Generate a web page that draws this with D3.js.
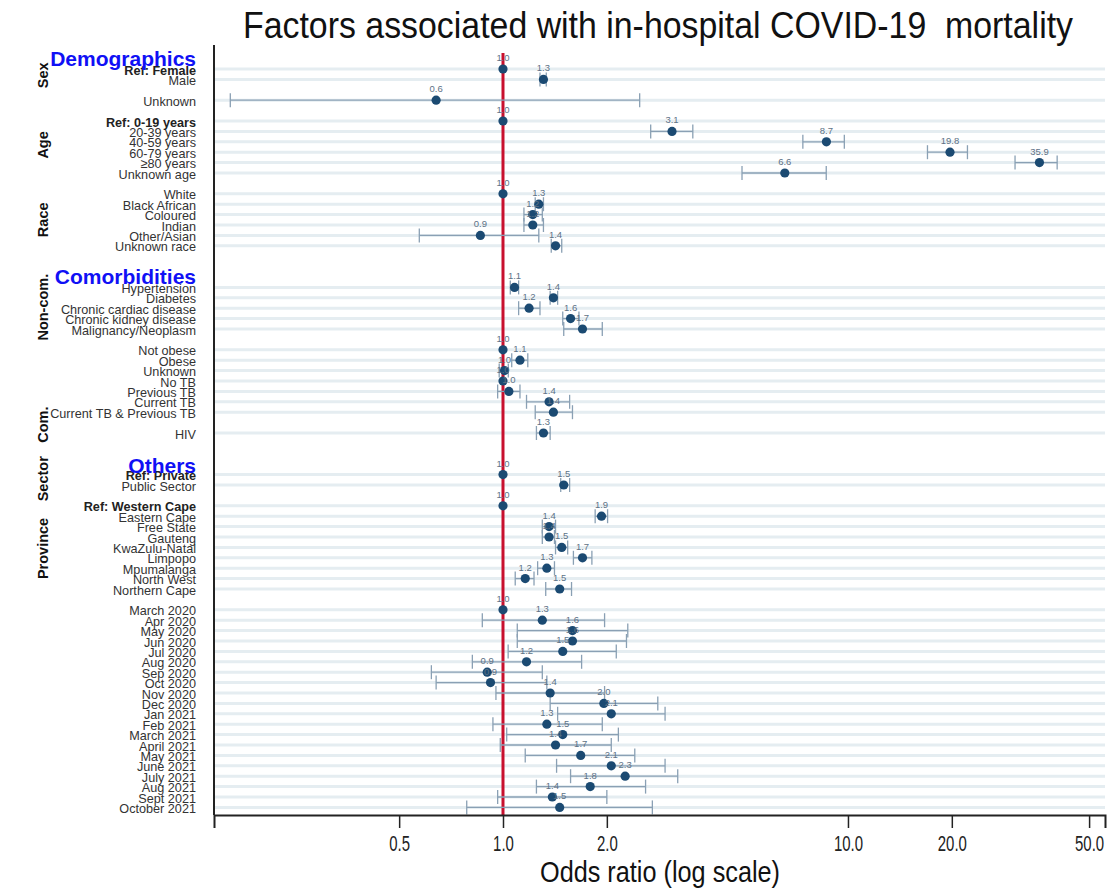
<!DOCTYPE html>
<html>
<head>
<meta charset="utf-8">
<script src="https://cdn.jsdelivr.net/npm/d3@7"></script>
<style>
  body { margin: 0; background: #fff; }
  svg { display: block; }
  text { font-family: "Liberation Sans", Arial, sans-serif; }
</style>
</head>
<body>
<div id="chart"></div>
<script>
// row labels, null = empty spacer row
var rowLabels = [
  "Ref: Female", "Male", null, "Unknown", null,
  "Ref: 0-19 years", "20-39 years", "40-59 years", "60-79 years", "\u226580 years", "Unknown age", null,
  "White", "Black African", "Coloured", "Indian", "Other/Asian", "Unknown race", null, null, null,
  "Hypertension", "Diabetes", "Chronic cardiac disease", "Chronic kidney disease", "Malignancy/Neoplasm", null,
  "Not obese", "Obese", "Unknown", "No TB", "Previous TB", "Current TB", "Current TB & Previous TB", null,
  "HIV", null, null, null,
  "Ref: Private", "Public Sector", null,
  "Ref: Western Cape", "Eastern Cape", "Free State", "Gauteng", "KwaZulu-Natal", "Limpopo", "Mpumalanga", "North West", "Northern Cape", null,
  "March 2020", "Apr 2020", "May 2020", "Jun 2020", "Jul 2020", "Aug 2020", "Sep 2020", "Oct 2020", "Nov 2020", "Dec 2020",
  "Jan 2021", "Feb 2021", "March 2021", "April 2021", "May 2021", "June 2021", "July 2021", "Aug 2021", "Sept 2021", "October 2021"
];

// odds ratios and 95% CI, in order of the non-empty rows
var oddsRatio = [
  1.0, 1.31, 0.64,
  1.0, 3.09, 8.66, 19.76, 35.9, 6.56,
  1.0, 1.27, 1.22, 1.22, 0.86, 1.42,
  1.08, 1.40, 1.19, 1.57, 1.70,
  1.0, 1.12, 1.01, 1.0, 1.04, 1.36, 1.40,
  1.31,
  1.0, 1.50,
  1.0, 1.93, 1.36, 1.36, 1.48, 1.70, 1.34, 1.16, 1.46,
  1.0, 1.30, 1.59, 1.59, 1.49, 1.17, 0.90, 0.92, 1.37, 1.96,
  2.06, 1.34, 1.49, 1.42, 1.68, 2.06, 2.26, 1.79, 1.39, 1.46
];
var ciLow = [
  null, 1.28, 0.162,
  null, 2.68, 7.4, 17.0, 30.5, 4.93,
  null, 1.24, 1.15, 1.15, 0.572, 1.38,
  1.05, 1.37, 1.11, 1.49, 1.50,
  null, 1.06, 0.975, null, 0.965, 1.17, 1.24,
  1.25,
  null, 1.47,
  null, 1.85, 1.30, 1.30, 1.42, 1.60, 1.26, 1.085, 1.33,
  null, 0.871, 1.10, 1.10, 1.035, 0.815, 0.62, 0.64, 0.954, 1.37,
  1.44, 0.935, 1.025, 0.982, 1.16, 1.43, 1.57, 1.25, 0.965, 0.785
];
var ciHigh = [
  null, 1.335, 2.49,
  null, 3.55, 9.76, 22.2, 40.4, 8.65,
  null, 1.31, 1.30, 1.31, 1.27, 1.48,
  1.11, 1.44, 1.28, 1.66, 1.94,
  null, 1.18, 1.036, null, 1.12, 1.56, 1.59,
  1.37,
  null, 1.56,
  null, 2.01, 1.42, 1.41, 1.54, 1.81, 1.41, 1.23, 1.58,
  null, 1.97, 2.30, 2.28, 2.13, 1.69, 1.30, 1.34, 1.97, 2.81,
  2.95, 1.94, 2.16, 2.06, 2.41, 2.95, 3.21, 2.59, 2.0, 2.71
];

var xTicks = [0.5, 1, 2, 10, 20, 50];

var groupHeaders = ["Demographics", "Comorbidities", "Others"];
var groupHeaderRow = [-0.95, 20, 38.2];

var sideLabels = ["Sex", "Age", "Race", "Non-com.", "Com.", "Sector", "Province"];
var sideLabelRow = [0.6, 7.3, 14.5, 22.9, 34.2, 39.4, 46.1];

var width = 1110, height = 891;
var plotL = 214, plotR = 1105, plotT = 45, plotB = 815;

var svg = d3.select("#chart").append("svg")
  .attr("width", width)
  .attr("height", height);

var x = d3.scaleLog().domain([0.1453, 55.6]).range([plotL, plotR]);
var y = d3.scaleLinear().domain([0, rowLabels.length - 1]).range([69, 807.4]);

// build rows
var rows = [];
var k = 0;
rowLabels.forEach(function(lab, i){
  if (lab === null) return;
  rows.push({label: lab, i: i, or: oddsRatio[k], lo: ciLow[k], hi: ciHigh[k]});
  k++;
});

// gridlines
svg.append("g").selectAll("line")
  .data(rows)
  .enter()
  .append("line")
  .attr("x1", plotL).attr("x2", plotR)
  .attr("y1", function(d){ return y(d.i); })
  .attr("y2", function(d){ return y(d.i); })
  .attr("stroke", "#e5edf1")
  .attr("stroke-width", 3);

// reference line at OR = 1
svg.append("line")
  .attr("x1", x(1)).attr("x2", x(1))
  .attr("y1", 53).attr("y2", plotB)
  .attr("stroke", "#c8102e")
  .attr("stroke-width", 3);

// CIs
var ci = svg.append("g").attr("stroke", "#8aa0b4").attr("stroke-width", 1.3);
var withCi = rows.filter(function(d){ return d.lo !== null; });
ci.selectAll(".ci").data(withCi).enter().append("line")
  .attr("x1", function(d){ return x(d.lo); })
  .attr("x2", function(d){ return x(d.hi); })
  .attr("y1", function(d){ return y(d.i); })
  .attr("y2", function(d){ return y(d.i); });
ci.selectAll(".capl").data(withCi).enter().append("line")
  .attr("x1", function(d){ return x(d.lo); })
  .attr("x2", function(d){ return x(d.lo); })
  .attr("y1", function(d){ return y(d.i) - 7; })
  .attr("y2", function(d){ return y(d.i) + 7; });
ci.selectAll(".caph").data(withCi).enter().append("line")
  .attr("x1", function(d){ return x(d.hi); })
  .attr("x2", function(d){ return x(d.hi); })
  .attr("y1", function(d){ return y(d.i) - 7; })
  .attr("y2", function(d){ return y(d.i) + 7; });

// points
svg.append("g").selectAll("circle")
  .data(rows)
  .enter()
  .append("circle")
  .attr("cx", function(d){ return x(d.or); })
  .attr("cy", function(d){ return y(d.i); })
  .attr("r", 4.6)
  .attr("fill", "#1b4a72");

// value labels
svg.append("g").selectAll("text")
  .data(rows)
  .enter()
  .append("text")
  .attr("x", function(d){ return x(d.or); })
  .attr("y", function(d){ return y(d.i) - 8; })
  .attr("text-anchor", "middle")
  .attr("font-size", 9.5)
  .attr("fill", "#5e7286")
  .text(function(d){ return d.or.toFixed(1); });

// row labels
svg.append("g").selectAll("text")
  .data(rows)
  .enter()
  .append("text")
  .attr("transform", function(d){ return "translate(196," + (y(d.i) + 5.5) + ") scale(0.96,1)"; })
  .attr("text-anchor", "end")
  .attr("font-size", 13.2)
  .attr("font-weight", function(d){ return d.label.indexOf("Ref:") === 0 ? "bold" : "normal"; })
  .attr("fill", function(d){ return d.label.indexOf("Ref:") === 0 ? "#222" : "#333"; })
  .text(function(d){ return d.label; });

// group headers
svg.append("g").selectAll("text")
  .data(groupHeaders)
  .enter()
  .append("text")
  .attr("x", 196)
  .attr("y", function(d, i){ return y(groupHeaderRow[i]) + 7; })
  .attr("text-anchor", "end")
  .attr("font-size", 21)
  .attr("font-weight", "bold")
  .attr("fill", "#1010f5")
  .text(function(d){ return d; });

// side labels
svg.append("g").selectAll("text")
  .data(sideLabels)
  .enter()
  .append("text")
  .attr("transform", function(d, i){ return "translate(48," + y(sideLabelRow[i]) + ") rotate(-90)"; })
  .attr("text-anchor", "middle")
  .attr("font-size", 14.5)
  .attr("font-weight", "bold")
  .attr("fill", "#111")
  .text(function(d){ return d; });

// axes frame
svg.append("line")
  .attr("x1", plotL).attr("x2", plotL)
  .attr("y1", plotT).attr("y2", plotB)
  .attr("stroke", "#222").attr("stroke-width", 2);

var xAxis = svg.append("g")
  .attr("transform", "translate(0," + plotB + ")")
  .call(d3.axisBottom(x).tickValues(xTicks).tickSize(13).tickPadding(8)
    .tickFormat(function(d){ return d3.format(".1f")(d); }));
xAxis.select(".domain").attr("stroke", "#222").attr("stroke-width", 2);
xAxis.selectAll(".tick line").attr("stroke", "#222").attr("stroke-width", 1.5);
xAxis.selectAll(".tick text").remove();
xAxis.selectAll(".tick").append("text")
  .attr("transform", "translate(0,36) scale(0.68,1)")
  .attr("text-anchor", "middle")
  .attr("font-size", 22)
  .attr("fill", "#222")
  .text(function(d){ return d3.format(".1f")(d); });

// titles
svg.append("text")
  .attr("x", 658).attr("y", 38)
  .attr("text-anchor", "middle")
  .attr("font-size", 37)
  .attr("fill", "#111")
  .attr("textLength", 830)
  .attr("lengthAdjust", "spacingAndGlyphs")
  .style("white-space", "pre")
  .text("Factors associated with in-hospital COVID-19  mortality");

svg.append("text")
  .attr("x", 660).attr("y", 882)
  .attr("text-anchor", "middle")
  .attr("font-size", 30)
  .attr("fill", "#111")
  .attr("textLength", 240)
  .attr("lengthAdjust", "spacingAndGlyphs")
  .text("Odds ratio (log scale)");
</script>
</body>
</html>
